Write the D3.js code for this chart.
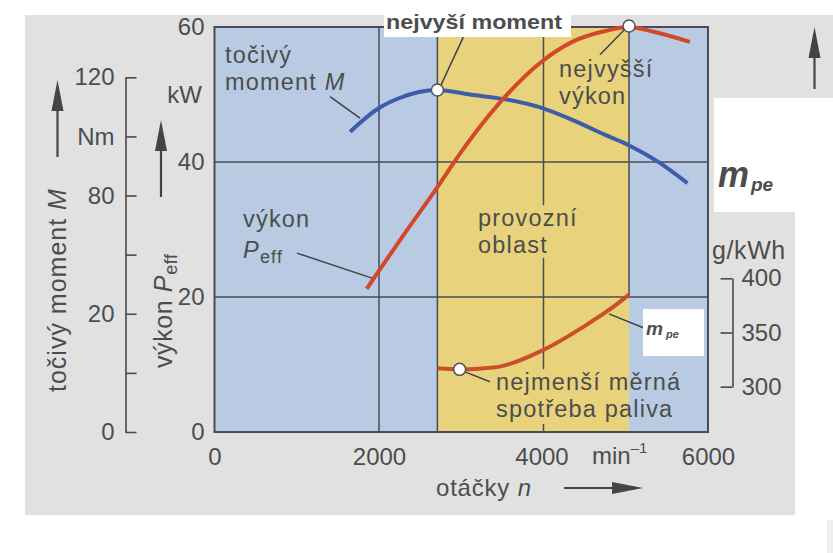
<!DOCTYPE html>
<html><head><meta charset="utf-8">
<script src="https://cdn.jsdelivr.net/npm/d3@7"></script>
<style>body{margin:0;background:#fff}svg{display:block}text{font-family:"Liberation Sans",Arial,sans-serif;fill:#4d4d4d}</style>
</head><body><svg id="c" width="833" height="553"></svg>
<script>
// ---- data ----
const rpmTorque = [1650, 2000, 2250, 2700, 3150, 3550, 3950, 4350, 4750, 5030, 5400, 5750];
const torqueNm  = [101.6, 109.6, 113.0, 115.7, 114.0, 112.5, 109.9, 105.6, 100.5, 97.1, 91.3, 84.2];
const rpmPower  = [1850, 2000, 2300, 2700, 3000, 3150, 3550, 3950, 4350, 4750, 5040, 5300, 5780];
const powerKW   = [21.2, 23.9, 29.2, 36.1, 41.5, 44.0, 49.9, 54.6, 57.8, 59.4, 60, 59.4, 57.8];
const rpmCons   = [2710, 2980, 3250, 3465, 4000, 4480, 4800, 5040];
const consGkWh  = [317, 316, 316.8, 318.5, 334, 355, 371, 385];
const xTicks = [0, 2000, 4000, 6000];
const kWTicks = [0, 20, 40, 60];
const torqueTicks = [0, 20, 40, 60, 80, 100, 120];
const torqueTickLabels = ["0", "", "20", "", "80", "Nm", "120"];
const consTicks = [300, 350, 400];
const zoneRpm = [2710, 5040];          // provozní oblast
const peakTorqueRpm = 2710, peakPowerRpm = 5040, minConsRpm = 2980;

const svg = d3.select("#c");
const x  = d3.scaleLinear().domain([0, 6000]).range([214.5, 708]);
const yP = d3.scaleLinear().domain([0, 60]).range([432, 27]);
const yM = d3.scaleLinear().domain([0, 120]).range([432, 77.3]);
const yC = d3.scaleLinear().domain([300, 400]).range([386.7, 278.3]);
const grid = "#474c58", txt = "#4d4d4d";

// page background pieces
svg.append("rect").attr("x",0).attr("y",0).attr("width",833).attr("height",553).attr("fill","#fff");
svg.append("rect").attr("x",25).attr("y",15).attr("width",770).attr("height",500).attr("fill","#e1e1e1");
svg.append("rect").attr("x",795).attr("y",15).attr("width",38).attr("height",83).attr("fill","#e1e1e1");
svg.append("rect").attr("x",827).attr("y",520).attr("width",6).attr("height",33).attr("fill","#eeeeee");

// plot backgrounds
svg.append("rect").attr("x",x(0)).attr("y",yP(60)).attr("width",x(6000)-x(0)).attr("height",yP(0)-yP(60)).attr("fill","#b8cbe3");
svg.append("rect").attr("x",x(zoneRpm[0])).attr("y",yP(60)).attr("width",x(zoneRpm[1])-x(zoneRpm[0])).attr("height",yP(0)-yP(60)).attr("fill","#e8d37c");

// grid
const gl = svg.append("g").attr("stroke",grid).attr("stroke-width",1.5);
[20,40].forEach(v=>gl.append("line").attr("x1",x(0)).attr("x2",x(6000)).attr("y1",yP(v)).attr("y2",yP(v)));
gl.append("line").attr("x1",x(2000)).attr("x2",x(2000)).attr("y1",yP(0)).attr("y2",yP(60));
gl.append("line").attr("x1",x(zoneRpm[0])).attr("x2",x(zoneRpm[0])).attr("y1",yP(0)).attr("y2",yP(60));
gl.append("line").attr("x1",x(zoneRpm[1])).attr("x2",x(zoneRpm[1])).attr("y1",yP(20)).attr("y2",yP(60));
[[0,1.2],[9.3,25.8],[33.6,60]].forEach(s=>gl.append("line").attr("x1",x(4000)).attr("x2",x(4000)).attr("y1",yP(s[0])).attr("y2",yP(s[1])));
svg.append("rect").attr("x",x(0)).attr("y",yP(60)).attr("width",x(6000)-x(0)).attr("height",yP(0)-yP(60)).attr("fill","none").attr("stroke",grid).attr("stroke-width",2);

// curves
const lineT = d3.line().x((d,i)=>x(rpmTorque[i])).y(d=>yM(d)).curve(d3.curveMonotoneX);
const lineP = d3.line().x((d,i)=>x(rpmPower[i])).y(d=>yP(d)).curve(d3.curveMonotoneX);
const lineC = d3.line().x((d,i)=>x(rpmCons[i])).y(d=>yC(d)).curve(d3.curveMonotoneX);
svg.append("path").attr("d",lineT(torqueNm)).attr("fill","none").attr("stroke","#3d5caa").attr("stroke-width",4);
svg.append("path").attr("d",lineP(powerKW)).attr("fill","none").attr("stroke","#d2482a").attr("stroke-width",4);
svg.append("path").attr("d",lineC(consGkWh)).attr("fill","none").attr("stroke","#c9502a").attr("stroke-width",4);

// leader lines (rpm, kW)
const leaders = [
  [[1404,49.7],[1769,46.5]],
  [[2742,51.1],[3025,58.5]],
  [[4687,55.9],[4991,59.7]],
  [[1003,26.5],[1915,22.8]],
  [[3046,8.9],[3349,7.45]],
  [[4796,17.5],[5222,15.4]]
];
leaders.forEach(l=>svg.append("line").attr("x1",x(l[0][0])).attr("y1",yP(l[0][1])).attr("x2",x(l[1][0])).attr("y2",yP(l[1][1])).attr("stroke","#3d4250").attr("stroke-width",1.5));

// marker circles
const circ = (cx,cy)=>svg.append("circle").attr("cx",cx).attr("cy",cy).attr("r",6).attr("fill","#fff").attr("stroke","#555").attr("stroke-width",1.5);
circ(x(peakTorqueRpm), yM(torqueNm[3]));
circ(x(peakPowerRpm), yP(60)-1);
circ(x(minConsRpm), yC(consGkWh[1]));

// axes
const axM = svg.append("g").attr("transform","translate(125.5,0)")
  .call(d3.axisLeft(yM).tickValues(torqueTicks).tickFormat((d,i)=>torqueTickLabels[i]).tickSizeInner(-11).tickSizeOuter(0).tickPadding(11));
const axC = svg.append("g").attr("transform","translate(732.5,0)")
  .call(d3.axisRight(yC).tickValues(consTicks).tickFormat(d3.format("d")).tickSizeInner(-12).tickSizeOuter(0).tickPadding(9));
[axM,axC].forEach(a=>{a.selectAll("path,line").attr("stroke","#4a4a4a").attr("stroke-width",1.6);
  a.selectAll("text").attr("font-size",24).attr("fill",txt).attr("font-family","Liberation Sans, Arial, sans-serif");});
const axP = svg.append("g").attr("transform",`translate(${x(0)},0)`)
  .call(d3.axisLeft(yP).tickValues(kWTicks).tickFormat(d3.format("d")).tickSize(0).tickPadding(10));
const axX = svg.append("g").attr("transform",`translate(0,${yP(0)})`)
  .call(d3.axisBottom(x).tickValues(xTicks).tickFormat(d3.format("d")).tickSize(0).tickPadding(16));
[axP,axX].forEach(a=>{a.select(".domain").remove();
  a.selectAll("text").attr("font-size",24).attr("fill",txt).attr("font-family","Liberation Sans, Arial, sans-serif");});
axX.selectAll(".tick text").filter(d=>d===4000).attr("dx",-2);

// helper: (multi-line) text in one element
function T(xp,yp,lines,opt={}){
  const t=svg.append("text").attr("x",xp).attr("y",yp).attr("font-size",opt.fs||23.5).attr("letter-spacing",opt.ls!==undefined?opt.ls:1.2);
  if(opt.anchor) t.attr("text-anchor",opt.anchor);
  const L = Array.isArray(lines)?lines:[lines];
  L.forEach((ln,i)=>{
    const parts = Array.isArray(ln)?ln:[[ln]];
    parts.forEach((p,j)=>{
      const s=t.append("tspan").text(p[0]);
      if(j===0){ s.attr("x",xp); if(i>0) s.attr("dy",opt.lh||26.5); }
      if(p[1]==="i") s.attr("font-style","italic");
      if(p[1]==="sub") s.attr("font-size",18).attr("dy",5);
    });
  });
  return t;
}

T(202,103,"kW",{fs:24,anchor:"end",ls:0});
const mn = T(592,464,"min",{fs:24,ls:0}); mn.append("tspan").attr("font-size",15).attr("dy",-11).text("–1");
T(436,496,[[["otáčky "],["n","i"]]],{fs:24,ls:0.8});

T(225,63,["točivý",[["moment "],["M","i"]]]);
T(559,77,["nejvyšší","výkon"]);
T(243,227,["výkon",[["P","i"],["eff","sub"]]],{lh:31});
T(478,226,["provozní","oblast"]);
T(496,390,["nejmenší měrná","spotřeba paliva"]);
T(712,259,"g/kWh",{fs:25,ls:0.6});

// rotated axis titles
const r1 = svg.append("text").attr("transform","translate(66,392) rotate(-90)").attr("font-size",25).attr("letter-spacing",1).text("točivý moment ");
r1.append("tspan").attr("font-style","italic").text("M");
const r2 = svg.append("text").attr("transform","translate(172,368) rotate(-90)").attr("font-size",25).attr("letter-spacing",0.6).text("výkon ");
r2.append("tspan").attr("font-style","italic").text("P");
r2.append("tspan").attr("font-size",18).attr("dy",5).text("eff");

// arrows
function arrowV(xc,y0,y1){svg.append("line").attr("x1",xc).attr("x2",xc).attr("y1",y0).attr("y2",y1+20).attr("stroke","#444").attr("stroke-width",2.2);
  svg.append("path").attr("d",`M${xc},${y1} L${xc-6},${y1+31} L${xc+6},${y1+31} Z`).attr("fill","#444");}
arrowV(57.5,157,80); arrowV(161,197,120); arrowV(814.5,89,27);
svg.append("line").attr("x1",564).attr("x2",620).attr("y1",488).attr("y2",488).attr("stroke","#444").attr("stroke-width",2.2);
svg.append("path").attr("d","M643,488 L612,482 L612,494 Z").attr("fill","#444");

// pasted white boxes
svg.append("rect").attr("x",384).attr("y",10).attr("width",187).attr("height",27).attr("fill","#fff");
svg.append("text").attr("x",386).attr("y",29).attr("font-family","DejaVu Sans, sans-serif").attr("font-weight","bold").attr("font-size",21)
  .attr("textLength",176).attr("lengthAdjust","spacingAndGlyphs").attr("fill","#000").text("nejvyší moment");
svg.append("rect").attr("x",714).attr("y",98).attr("width",119).attr("height",114).attr("fill","#fff");
svg.append("text").attr("x",718).attr("y",187).attr("font-family","DejaVu Sans, sans-serif").attr("font-weight","bold").attr("font-style","italic").attr("font-size",36).attr("fill","#000").attr("textLength",31).attr("lengthAdjust","spacingAndGlyphs").text("m");
svg.append("text").attr("x",751).attr("y",191).attr("font-family","DejaVu Sans, sans-serif").attr("font-weight","bold").attr("font-style","italic").attr("font-size",19).attr("fill","#000").text("pe");
svg.append("rect").attr("x",643).attr("y",309).attr("width",61).attr("height",47).attr("fill","#fff");
svg.append("text").attr("x",646).attr("y",335).attr("font-family","DejaVu Sans, sans-serif").attr("font-weight","bold").attr("font-style","italic").attr("font-size",19).attr("fill","#000").attr("textLength",17).attr("lengthAdjust","spacingAndGlyphs").text("m");
svg.append("text").attr("x",666).attr("y",338).attr("font-family","DejaVu Sans, sans-serif").attr("font-weight","bold").attr("font-style","italic").attr("font-size",11).attr("fill","#000").text("pe");
</script></body></html>
